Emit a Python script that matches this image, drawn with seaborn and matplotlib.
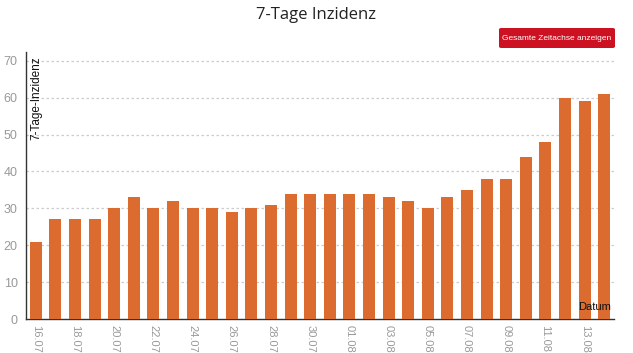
import pandas as pd
import matplotlib.pyplot as plt
import seaborn as sns
from matplotlib.patches import FancyBboxPatch

dates = ['16.07', '17.07', '18.07', '19.07', '20.07', '21.07', '22.07', '23.07',
         '24.07', '25.07', '26.07', '27.07', '28.07', '29.07', '30.07', '31.07',
         '01.08', '02.08', '03.08', '04.08', '05.08', '06.08', '07.08', '08.08',
         '09.08', '10.08', '11.08', '12.08', '13.08', '14.08']
incidence = [21, 27, 27, 27, 30, 33, 30, 32, 30, 30, 29, 30, 31, 34, 34, 34,
             34, 34, 33, 32, 30, 33, 35, 38, 38, 44, 48, 60, 59, 61]
y_ticks = [0, 10, 20, 30, 40, 50, 60, 70]

df = pd.DataFrame({'Datum': dates, 'Inzidenz': incidence})

sns.set_style('white')
plt.rcParams['font.family'] = ['Liberation Sans', 'DejaVu Sans']

fig = plt.figure(figsize=(6.33, 3.53), dpi=100)
ax = fig.add_axes([26 / 633, 1 - 319 / 353, (614 - 26) / 633, (319 - 52) / 353])

sns.barplot(data=df, x='Datum', y='Inzidenz', color='#dc6b2f', saturation=1,
            width=0.62, linewidth=0, ax=ax, zorder=3)

ax.set_xlim(-0.5, len(dates) - 0.5)
ax.set_ylim(0, 72.4)

# horizontal dotted grid
ax.set_yticks(y_ticks)
ax.set_yticklabels([str(t) for t in y_ticks], color='#999999', fontsize=9)
for t in y_ticks[1:]:
    ax.axhline(t, color='#cccccc', lw=0.9, ls=(0, (2, 2)), zorder=1)
ax.tick_params(axis='y', length=4, width=1, color='#333333', pad=2)

# x labels every other day, tick marks between
ax.set_xticks(range(0, len(dates), 2))
ax.set_xticklabels(dates[::2], rotation=-90, color='#999999', fontsize=8)
ax.set_xticks([k + 0.5 for k in range(0, len(dates), 2)], minor=True)
ax.tick_params(axis='x', which='major', length=0, pad=4)
ax.tick_params(axis='x', which='minor', length=5, width=1, color='#333333')

for side in ['top', 'right']:
    ax.spines[side].set_visible(False)
for side in ['left', 'bottom']:
    ax.spines[side].set_color('#333333')
    ax.spines[side].set_linewidth(1)

ax.set_xlabel('')
ax.set_ylabel('')
ax.text(0.018, 0.985, '7-Tage-Inzidenz', transform=ax.transAxes, rotation=90,
        ha='center', va='top', fontsize=8.5, color='#111111')
ax.text(0.995, 0.025, 'Datum', transform=ax.transAxes, ha='right', va='bottom',
        fontsize=8, color='#111111', zorder=5)

fig.text(0.5, 1 - 15 / 353, '7-Tage Inzidenz', ha='center', va='center',
         fontsize=12, color='#222222', family=['Open Sans', 'DejaVu Sans'])

# button
btn = FancyBboxPatch((499 / 633, 1 - 48 / 353), 116 / 633, 20 / 353,
                     boxstyle='round,pad=0,rounding_size=0.004',
                     transform=fig.transFigure, facecolor='#cc1122',
                     edgecolor='none')
fig.patches.append(btn)
fig.text(557 / 633, 1 - 38 / 353, 'Gesamte Zeitachse anzeigen', ha='center',
         va='center', fontsize=6.0, color='white')

plt.savefig('out.png', dpi=100)
